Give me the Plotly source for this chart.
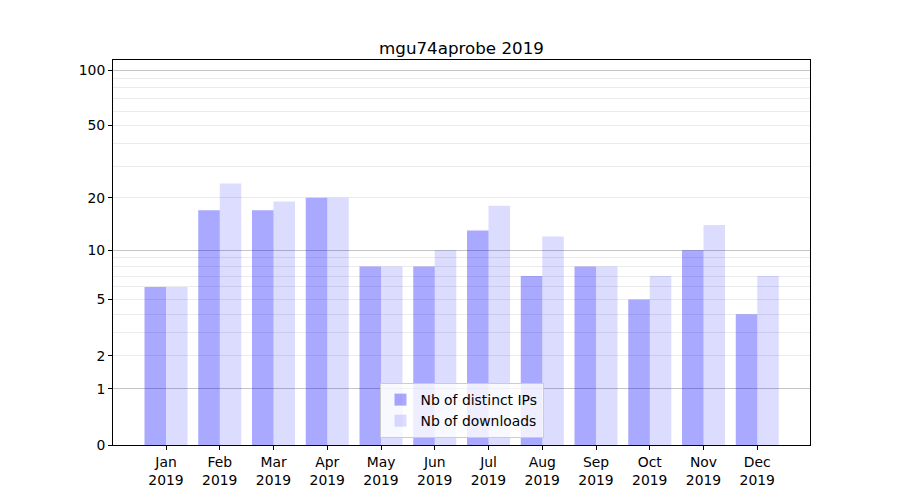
import plotly.graph_objects as go

months = ["Jan", "Feb", "Mar", "Apr", "May", "Jun", "Jul", "Aug", "Sep", "Oct", "Nov", "Dec"]
year = "2019"
distinct_ips = [6, 17, 17, 20, 8, 8, 13, 7, 8, 5, 10, 4]
downloads = [6, 24, 19, 20, 8, 10, 18, 12, 8, 7, 14, 7]

# y axis is log(1 + x): plot 1 + value on a log axis, label with the raw value
tick_labels = [0, 1, 2, 5, 10, 20, 50, 100]
major_grid = [1, 10, 100]
minor_grid = [2, 3, 4, 5, 6, 7, 8, 9, 20, 30, 40, 50, 60, 70, 80, 90]

x_labels = [m + "<br>" + year for m in months]
x = list(range(len(months)))

fig = go.Figure()
fig.add_trace(go.Bar(x=x, y=[v + 1 for v in distinct_ips], name="Nb of distinct IPs",
                     marker=dict(color="blue", line=dict(width=0)), opacity=0.333))
fig.add_trace(go.Bar(x=x, y=[v + 1 for v in downloads], name="Nb of downloads",
                     marker=dict(color="blue", line=dict(width=0)), opacity=0.133))

yrange = [0, 2.058]
fig.update_layout(
    width=900, height=500,
    plot_bgcolor="white", paper_bgcolor="white",
    font=dict(family="DejaVu Sans", size=13.9, color="black"),
    margin=dict(l=105, r=98, t=52, b=63),
    barmode="group", bargap=0.2, bargroupgap=0,
    title=dict(text="mgu74aprobe 2019", x=0.5, xref="paper", xanchor="center",
               y=1, yref="paper", yanchor="bottom", pad=dict(b=6),
               font=dict(size=16.7)),
    legend=dict(x=0.5, xanchor="center", y=0.018, yanchor="bottom",
                bgcolor="rgba(255,255,255,0.8)", bordercolor="#cccccc", borderwidth=1,
                font=dict(size=13.9), tracegroupgap=0),
    xaxis=dict(tickmode="array", tickvals=x, ticktext=x_labels,
               range=[-0.986, 11.981], showgrid=False, zeroline=False,
               ticks="outside", ticklen=4, tickcolor="black",
               showline=True, linecolor="black", linewidth=1, mirror=True),
    yaxis=dict(type="log", range=yrange,
               tickmode="array", tickvals=[t + 1 for t in tick_labels],
               ticktext=[str(t) for t in tick_labels],
               ticks="outside", ticklen=4, tickcolor="black",
               showgrid=False, zeroline=False,
               showline=True, linecolor="black", linewidth=1, mirror=True,
               minor=dict(tickmode="array", tickvals=[t + 1 for t in minor_grid],
                          showgrid=True, gridcolor="#ebebeb", gridwidth=1, ticks="")),
    yaxis2=dict(type="log", range=yrange, overlaying="y", side="left",
                tickmode="array", tickvals=[t + 1 for t in major_grid],
                showticklabels=False, ticks="", showgrid=True,
                gridcolor="#c4c4c4", gridwidth=1, zeroline=False, showline=False),
)
# invisible trace to show the second axis grid
fig.add_trace(go.Scatter(x=[x[0]], y=[2], yaxis="y2", mode="markers",
                         marker=dict(opacity=0), showlegend=False, hoverinfo="skip"))

fig.write_html("out.html")
